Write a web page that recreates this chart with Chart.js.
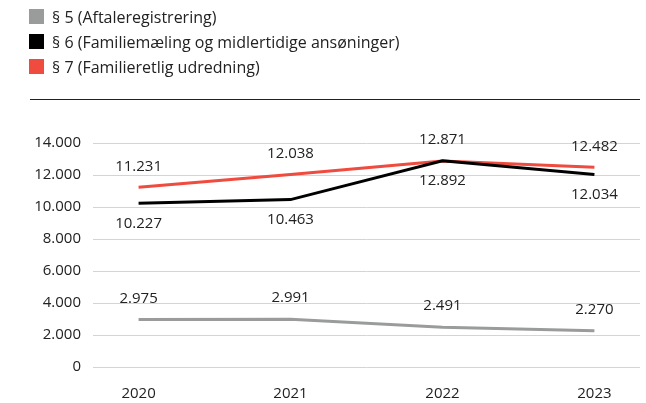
<!DOCTYPE html>
<html lang="da">
<head>
    <meta charset="UTF-8">
    <title>Familieretshuset</title>
    <script src="https://cdn.jsdelivr.net/npm/chart.js"></script>
    <style>
        body { margin: 0; font-family: "Open Sans", sans-serif; background: #fff; }
        #wrap { position: relative; width: 646px; height: 403px; }
        #chart { position: absolute; left: 0; top: 0; }
        #legend { position: absolute; left: 29px; top: 4px; font-size: 16px; color: #222; }
        .item { height: 25px; line-height: 22px; display: flex; align-items: center; }
        .box { width: 15px; height: 15px; margin-right: 8px; }
        #rule { position: absolute; left: 30px; top: 99px; width: 610px; border-top: 1.5px solid #222; }
    </style>
</head>
<body>
<div id="wrap">
    <canvas id="chart" width="646" height="403"></canvas>
    <div id="legend"></div>
    <div id="rule"></div>
</div>
<script>
    const years = ['2020', '2021', '2022', '2023'];
    const seriesNames = ['§ 5 (Aftaleregistrering)', '§ 6 (Familiemæling og midlertidige ansøninger)', '§ 7 (Familieretlig udredning)'];
    const s5 = [2975, 2991, 2491, 2270];
    const s6 = [10227, 10463, 12892, 12034];
    const s7 = [11231, 12038, 12871, 12482];
    const yTicks = [0, 2000, 4000, 6000, 8000, 10000, 12000, 14000];
    const colors = ['#9a9b9b', '#000000', '#ef4b3f'];
    const labelSide = ['above', 'below', 'above'];

    const fmt = v => String(v).replace(/\B(?=(\d{3})+(?!\d))/g, '.');

    // legend as html
    const legend = document.getElementById('legend');
    seriesNames.forEach((name, i) => {
        const row = document.createElement('div');
        row.className = 'item';
        row.innerHTML = '<span class="box" style="background:' + colors[i] + '"></span>' + name;
        legend.appendChild(row);
    });

    const toPoints = arr => arr.map((v, i) => ({ x: i, y: v }));
    const datasets = [s5, s6, s7].map((arr, i) => ({
        label: seriesNames[i],
        data: toPoints(arr),
        borderColor: colors[i],
        backgroundColor: colors[i],
        borderWidth: 3,
        pointRadius: 0,
        tension: 0
    }));

    // value labels above/below the line
    const valueLabels = {
        id: 'valueLabels',
        afterDatasetsDraw(chart) {
            const ctx = chart.ctx;
            ctx.save();
            ctx.font = '15px "Open Sans", sans-serif';
            ctx.fillStyle = '#222';
            ctx.textAlign = 'center';
            ctx.textBaseline = 'middle';
            chart.data.datasets.forEach((ds, di) => {
                chart.getDatasetMeta(di).data.forEach((pt, i) => {
                    const dy = labelSide[di] === 'above' ? -21 : 20;
                    ctx.fillText(fmt(ds.data[i].y), pt.x, pt.y + dy);
                });
            });
            ctx.restore();
        }
    };

    new Chart(document.getElementById('chart'), {
        type: 'line',
        data: { datasets },
        plugins: [valueLabels],
        options: {
            responsive: false,
            animation: false,
            layout: { padding: { top: 143, right: 6, bottom: 0, left: 0 } },
            plugins: { legend: { display: false }, tooltip: { enabled: false } },
            scales: {
                x: {
                    type: 'linear',
                    min: -0.3,
                    max: 3.3,
                    grid: { display: false },
                    border: { display: false },
                    afterBuildTicks: s => { s.ticks = years.map((y, i) => ({ value: i })); },
                    afterFit: s => { s.height = 36; },
                    ticks: {
                        padding: 10,
                        color: '#222',
                        font: { family: 'Open Sans', size: 15 },
                        callback: v => years[v]
                    }
                },
                y: {
                    min: 0,
                    max: 14000,
                    afterBuildTicks: s => { s.ticks = yTicks.map(v => ({ value: v })); },
                    afterFit: s => { s.width = 93; },
                    grid: { color: '#d4d4d4', lineWidth: 1, drawTicks: false },
                    border: { display: false },
                    ticks: {
                        padding: 12,
                        color: '#222',
                        font: { family: 'Open Sans', size: 15 },
                        callback: v => fmt(v)
                    }
                }
            }
        }
    });
</script>
</body>
</html>
